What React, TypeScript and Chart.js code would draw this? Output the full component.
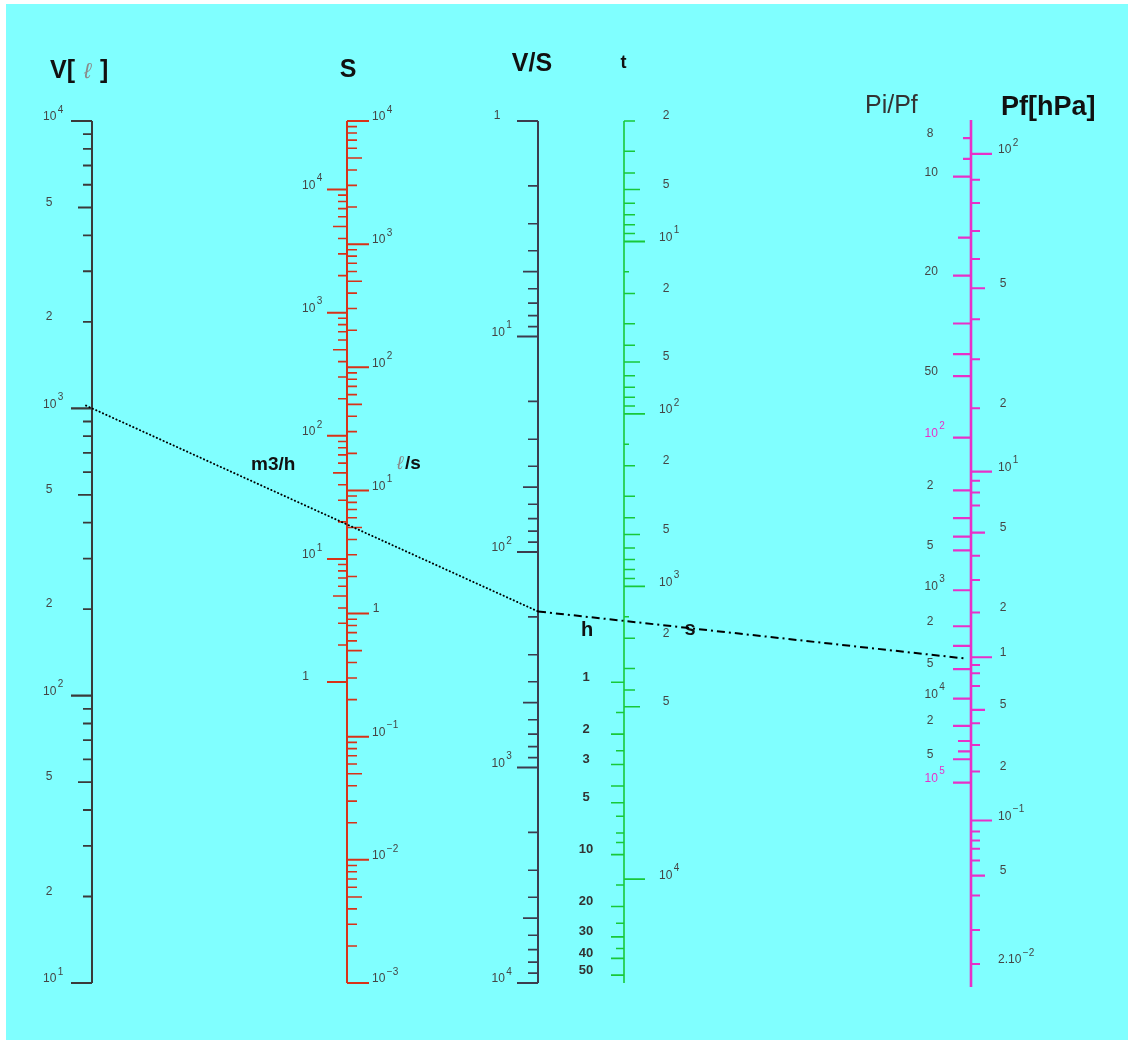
import { useEffect, useRef } from 'react';
import { Chart, registerables } from 'chart.js';

Chart.register(...registerables);

if (typeof document !== 'undefined') document.body.style.margin = '0';

const CANVAS_W = 1133;
const CANVAS_H = 1043;
const AREA_TOP = 121;
const AREA_BOTTOM = 983;

// ---------------- data ----------------
const MINOR_MULTS = [2, 3, 4, 6, 7, 8, 9];
const MID_MULTS = [5];

// V [ℓ]
const V_RANGE = [10, 1e4];
const V_DECADES = [10, 100, 1000, 10000];
const V_DECADE_LABELS = ['10^1', '10^2', '10^3', '10^4'];
const V_DIGIT_VALUES = [20, 50, 200, 500, 2000, 5000];
const V_DIGIT_LABELS = ['2', '5', '2', '5', '2', '5'];

// S : ℓ/s (right) and m3/h (left)
const S_RANGE = [1e-3, 1e4];
const S_LS_DECADES = [1e-3, 1e-2, 1e-1, 1, 10, 100, 1000, 1e4];
const S_LS_LABELS = ['10^−3', '10^−2', '10^−1', '1', '10^1', '10^2', '10^3', '10^4'];
const S_M3H_DECADES = [1, 10, 100, 1000, 1e4];
const S_M3H_LABELS = ['1', '10^1', '10^2', '10^3', '10^4'];
const M3H_TO_LS = 1000 / 3600;

// V/S
const VS_RANGE = [1, 1e4];
const VS_DECADES = [1, 10, 100, 1000, 1e4];
const VS_LABELS = ['1', '10^1', '10^2', '10^3', '10^4'];

// t : seconds (right), hours (left)
const T_RANGE = [2, 2e5];
const T_SEC_MAJOR = [10, 100, 1000, 5e4];
const T_SEC_MAJOR_LABELS = ['10^1', '10^2', '10^3', '10^4'];
const T_SEC_MID = [5, 50, 500, 5000];
const T_SEC_MINOR = [2, 3, 4, 6, 7, 8, 9, 20, 30, 40, 60, 70, 80, 90, 200, 300, 400, 600, 700, 800, 900, 2000, 3000, 4000];
const T_SEC_SHORT = [15, 150, 1500];
const T_SEC_DIGIT_VALUES = [2, 5, 20, 50, 200, 500, 2000, 5000];
const T_SEC_DIGIT_LABELS = ['2', '5', '2', '5', '2', '5', '2', '5'];
const T_HOUR_LONG = [1, 2, 3, 4, 5, 10, 20, 30, 40, 50];
const T_HOUR_SHORT = [1.5, 2.5, 6, 7.5, 8.5, 15, 25, 35];
const T_HOUR_LABELS = [1, 2, 3, 5, 10, 20, 30, 40, 50];
const SEC_PER_HOUR = 3600;

// Pi/Pf (left) and Pf [hPa] (right)
const P_RANGE = [7.29, 3.26e8];
const P_LINE = [7.25, 4.0e8];
const PR_LONG = [10, 20, 30, 40, 50, 100, 200, 300, 400, 500, 1000, 2000, 3000, 5000, 1e4, 2e4, 5e4, 1e5];
const PR_MID = [15, 3e4, 4e4];
const PR_SHORT = [8, 9];
const PR_LABEL_VALUES = [8, 10, 20, 50, 100, 200, 500, 1000, 2000, 5000, 1e4, 2e4, 5e4, 1e5];
const PR_LABELS = ['8', '10', '20', '50', '10^2', '2', '5', '10^3', '2', '5', '10^4', '2', '5', '10^5'];
const PR_HIGHLIGHT = [100, 1e5];

const PF_VALUES = [100, 90, 80, 70, 60, 50, 40, 30, 20, 10, 9, 8, 7, 5, 4, 3, 2, 1, 0.9, 0.8, 0.7, 0.5, 0.4, 0.3, 0.2, 0.1, 0.09, 0.08, 0.07, 0.06, 0.05, 0.04, 0.03, 0.02];
const PF_AT_RATIO = [8.74, 10.2, 11.83, 14.3, 17.55, 22.14, 28.86, 42.1, 70.8, 154.4, 175.1, 206.1, 248.5, 374.6, 546.9, 829, 1524, 3838, 4550, 5492, 7378, 13220, 18700, 33370, 71600, 338000, 494000, 678000, 915000, 1.41e6, 2.51e6, 5.6e6, 2.48e7, 1.24e8];
const PF_MAJOR = [100, 10, 1, 0.1];
const PF_MID = [50, 5, 0.5, 0.05];
const PF_LABEL_VALUES = [100, 50, 20, 10, 5, 2, 1, 0.5, 0.2, 0.1, 0.05, 0.02];
const PF_LABELS = ['10^2', '5', '2', '10^1', '5', '2', '1', '5', '2', '10^−1', '5', '2.10^−2'];

// example reading drawn across the nomogram
const EXAMPLE_V = 1000;
const EXAMPLE_S = 5.3;
const EXAMPLE_RATIO = 4000;

// ---------------- layout / style ----------------
const AXIS_POS = { V: 92, S: 347, VS: 538, T: 624, P: 971 };
const COLORS = {
  bg: '#80ffff',
  V: '#3a3a3a',
  S: '#d83218',
  VS: '#3c3c4e',
  T: '#18c83a',
  P: '#e830c8',
  label: '#454545',
  title: '#111111',
  ell: '#8a8a8a',
};
const FONT = '"Liberation Sans", Arial, sans-serif';

const lnln = (r: number) => Math.log10(Math.log(r));
const below = (decades: number[], mults: number[]) =>
  decades.slice(0, -1).flatMap((d) => mults.map((m) => m * d));

function axisLine(ctx: CanvasRenderingContext2D, x: number, sc: any, range: number[], color: string, w: number, map = (v: number) => v) {
  ctx.strokeStyle = color;
  ctx.lineWidth = w;
  ctx.setLineDash([]);
  ctx.beginPath();
  ctx.moveTo(x, sc.getPixelForValue(map(range[0])));
  ctx.lineTo(x, sc.getPixelForValue(map(range[1])));
  ctx.stroke();
}

function ticks(ctx: CanvasRenderingContext2D, x: number, sc: any, values: number[], len: number, side: number, color: string, w: number, map = (v: number) => v) {
  ctx.strokeStyle = color;
  ctx.lineWidth = w;
  ctx.setLineDash([]);
  ctx.beginPath();
  for (const v of values) {
    const y = sc.getPixelForValue(map(v));
    ctx.moveTo(x, y);
    ctx.lineTo(x + side * len, y);
  }
  ctx.stroke();
}

function drawLabel(ctx: CanvasRenderingContext2D, txt: string, x0: number, xc: number, y: number, color: string) {
  const [base, sup] = txt.split('^');
  ctx.fillStyle = color;
  ctx.textBaseline = 'middle';
  ctx.font = `12px ${FONT}`;
  if (!sup && base.length === 1) {
    ctx.textAlign = 'center';
    ctx.fillText(base, xc, y - 5);
    return;
  }
  ctx.textAlign = 'left';
  ctx.fillText(base, x0, y - 4);
  if (sup) {
    const w = ctx.measureText(base).width;
    ctx.font = `10px ${FONT}`;
    ctx.fillText(sup, x0 + w + 1.5, y - 11);
  }
}

function labels(ctx: CanvasRenderingContext2D, axisX: number, sc: any, values: number[], texts: string[], baseOff: number, digitOff: number, color: string, map = (v: number) => v, colorFor?: (v: number) => string) {
  values.forEach((v, i) => {
    const y = sc.getPixelForValue(map(v));
    drawLabel(ctx, texts[i], axisX + baseOff, axisX + digitOff, y, colorFor ? colorFor(v) : color);
  });
}

function text(ctx: CanvasRenderingContext2D, t: string, x: number, y: number, font: string, color: string, align: CanvasTextAlign = 'left') {
  ctx.font = font;
  ctx.fillStyle = color;
  ctx.textAlign = align;
  ctx.textBaseline = 'alphabetic';
  ctx.fillText(t, x, y);
}

const nomogramPlugin = {
  id: 'nomogram',
  beforeDraw(chart: any) {
    const ctx: CanvasRenderingContext2D = chart.ctx;
    ctx.save();
    ctx.fillStyle = '#ffffff';
    ctx.fillRect(0, 0, chart.width, chart.height);
    ctx.fillStyle = COLORS.bg;
    ctx.fillRect(6, 4, 1122, 1036);
    ctx.restore();
  },
  afterDraw(chart: any) {
    const ctx: CanvasRenderingContext2D = chart.ctx;
    const s = chart.scales;
    const X = (k: keyof typeof AXIS_POS) => s.x.getPixelForValue(AXIS_POS[k]);
    ctx.save();
    ctx.lineCap = 'butt';

    // ---- V axis ----
    const xV = X('V');
    axisLine(ctx, xV, s.yV, V_RANGE, COLORS.V, 2);
    ticks(ctx, xV, s.yV, V_DECADES, 21, -1, COLORS.V, 2.2);
    ticks(ctx, xV, s.yV, below(V_DECADES, MID_MULTS), 14, -1, COLORS.V, 1.8);
    ticks(ctx, xV, s.yV, below(V_DECADES, MINOR_MULTS), 9, -1, COLORS.V, 1.8);
    labels(ctx, xV, s.yV, V_DECADES, V_DECADE_LABELS, -49, -43, COLORS.label);
    labels(ctx, xV, s.yV, V_DIGIT_VALUES, V_DIGIT_LABELS, -49, -43, COLORS.label);

    // ---- S axis ----
    const xS = X('S');
    const m3h = (v: number) => v * M3H_TO_LS;
    axisLine(ctx, xS, s.yS, S_RANGE, COLORS.S, 2);
    ticks(ctx, xS, s.yS, S_LS_DECADES, 22, 1, COLORS.S, 2);
    ticks(ctx, xS, s.yS, below(S_LS_DECADES, MID_MULTS), 15, 1, COLORS.S, 1.6);
    ticks(ctx, xS, s.yS, below(S_LS_DECADES, MINOR_MULTS), 10, 1, COLORS.S, 1.6);
    ticks(ctx, xS, s.yS, S_M3H_DECADES, 20, -1, COLORS.S, 2, m3h);
    ticks(ctx, xS, s.yS, below(S_M3H_DECADES, MID_MULTS), 14, -1, COLORS.S, 1.6, m3h);
    ticks(ctx, xS, s.yS, below(S_M3H_DECADES, MINOR_MULTS), 9, -1, COLORS.S, 1.6, m3h);
    labels(ctx, xS, s.yS, S_LS_DECADES, S_LS_LABELS, 25, 29, COLORS.label);
    labels(ctx, xS, s.yS, S_M3H_DECADES, S_M3H_LABELS, -45, -41.5, COLORS.label, m3h);

    // ---- V/S axis ----
    const xVS = X('VS');
    axisLine(ctx, xVS, s.yVS, VS_RANGE, COLORS.VS, 2);
    ticks(ctx, xVS, s.yVS, VS_DECADES, 21, -1, COLORS.VS, 2);
    ticks(ctx, xVS, s.yVS, below(VS_DECADES, MID_MULTS), 15, -1, COLORS.VS, 1.6);
    ticks(ctx, xVS, s.yVS, below(VS_DECADES, MINOR_MULTS), 10, -1, COLORS.VS, 1.6);
    labels(ctx, xVS, s.yVS, VS_DECADES, VS_LABELS, -46.5, -41, COLORS.label);

    // ---- t axis ----
    const xT = X('T');
    const hrs = (v: number) => v * SEC_PER_HOUR;
    axisLine(ctx, xT, s.yT, T_RANGE, COLORS.T, 1.6);
    ticks(ctx, xT, s.yT, T_SEC_MAJOR, 21, 1, COLORS.T, 1.8);
    ticks(ctx, xT, s.yT, T_SEC_MID, 16, 1, COLORS.T, 1.5);
    ticks(ctx, xT, s.yT, T_SEC_MINOR, 11, 1, COLORS.T, 1.5);
    ticks(ctx, xT, s.yT, T_SEC_SHORT, 5, 1, COLORS.T, 1.5);
    ticks(ctx, xT, s.yT, T_HOUR_LONG, 13, -1, COLORS.T, 1.6, hrs);
    ticks(ctx, xT, s.yT, T_HOUR_SHORT, 8, -1, COLORS.T, 1.5, hrs);
    labels(ctx, xT, s.yT, T_SEC_MAJOR, T_SEC_MAJOR_LABELS, 35, 42, COLORS.label);
    labels(ctx, xT, s.yT, T_SEC_DIGIT_VALUES, T_SEC_DIGIT_LABELS, 35, 42, COLORS.label);
    ctx.font = `bold 13px ${FONT}`;
    ctx.fillStyle = '#333333';
    ctx.textAlign = 'center';
    ctx.textBaseline = 'middle';
    for (const h of T_HOUR_LABELS) {
      ctx.fillText(String(h), xT - 38, s.yT.getPixelForValue(hrs(h)) - 5);
    }

    // ---- Pi/Pf and Pf axis ----
    const xP = X('P');
    axisLine(ctx, xP, s.yP, P_LINE, COLORS.P, 2.6, lnln);
    ticks(ctx, xP, s.yP, PR_LONG, 18, -1, COLORS.P, 2.2, lnln);
    ticks(ctx, xP, s.yP, PR_MID, 13, -1, COLORS.P, 2.2, lnln);
    ticks(ctx, xP, s.yP, PR_SHORT, 8, -1, COLORS.P, 2.2, lnln);
    const pfPos = (pf: number) => lnln(PF_AT_RATIO[PF_VALUES.indexOf(pf)]);
    ticks(ctx, xP, s.yP, PF_MAJOR, 21, 1, COLORS.P, 2.2, pfPos);
    ticks(ctx, xP, s.yP, PF_MID, 14, 1, COLORS.P, 2.2, pfPos);
    ticks(ctx, xP, s.yP, PF_VALUES.filter((v) => !PF_MAJOR.includes(v) && !PF_MID.includes(v)), 9, 1, COLORS.P, 2, pfPos);
    labels(ctx, xP, s.yP, PR_LABEL_VALUES, PR_LABELS, -46.5, -41, COLORS.label, lnln,
      (v) => (PR_HIGHLIGHT.includes(v) ? COLORS.P : COLORS.label));
    labels(ctx, xP, s.yP, PF_LABEL_VALUES, PF_LABELS, 27, 32, COLORS.label, pfPos);

    // ---- titles ----
    text(ctx, 'V[', 50, 78, `bold 25px ${FONT}`, COLORS.title);
    text(ctx, 'ℓ', 84, 78, `italic 22px ${FONT}`, COLORS.ell);
    text(ctx, ']', 100, 78, `bold 25px ${FONT}`, COLORS.title);
    text(ctx, 'S', xS + 1, 77, `bold 25px ${FONT}`, COLORS.title, 'center');
    text(ctx, 'V/S', 532, 71, `bold 25px ${FONT}`, COLORS.title, 'center');
    text(ctx, 't', 623.5, 68, `bold 18px ${FONT}`, COLORS.title, 'center');
    text(ctx, 'm3/h', 251, 470, `bold 19px ${FONT}`, COLORS.title);
    text(ctx, 'ℓ', 397, 469, `italic 19px ${FONT}`, COLORS.ell);
    text(ctx, '/s', 405, 469, `bold 19px ${FONT}`, COLORS.title);
    text(ctx, 'h', 587, 636, `bold 20px ${FONT}`, COLORS.title, 'center');
    text(ctx, 's', 690, 635, `bold 20px ${FONT}`, COLORS.title, 'center');
    text(ctx, 'Pi/Pf', 865, 113, `25px ${FONT}`, '#333333');
    text(ctx, 'Pf[hPa]', 1001, 115, `bold 27px ${FONT}`, COLORS.title);

    // ---- example index line ----
    const yV0 = s.yV.getPixelForValue(EXAMPLE_V);
    const yVS0 = s.yVS.getPixelForValue(EXAMPLE_V / EXAMPLE_S);
    const yP0 = s.yP.getPixelForValue(lnln(EXAMPLE_RATIO));
    const k1 = (yVS0 - yV0) / (xVS - xV);
    ctx.strokeStyle = '#000000';
    ctx.lineCap = 'round';
    ctx.lineWidth = 1.9;
    ctx.setLineDash([0.3, 3.4]);
    ctx.beginPath();
    ctx.moveTo(xV - 6, yV0 - 6 * k1);
    ctx.lineTo(xVS, yVS0);
    ctx.stroke();
    const k2 = (yP0 - yVS0) / (xP - xVS);
    ctx.lineCap = 'butt';
    ctx.lineWidth = 2;
    ctx.setLineDash([8, 4, 2, 4]);
    ctx.beginPath();
    ctx.moveTo(xVS, yVS0);
    ctx.lineTo(xP - 5, yP0 - 5 * k2);
    ctx.stroke();
    ctx.setLineDash([]);
    ctx.restore();
  },
};

export default function App() {
  const ref = useRef<HTMLCanvasElement>(null);
  useEffect(() => {
    document.body.style.margin = '0';
    const canvas = ref.current;
    if (!canvas) return;
    const chart = new Chart(canvas, {
      type: 'scatter',
      data: { datasets: [] },
      options: {
        animation: false,
        responsive: false,
        events: [],
        layout: { padding: { top: AREA_TOP, bottom: CANVAS_H - AREA_BOTTOM, left: 0, right: 0 } },
        plugins: { legend: { display: false }, tooltip: { enabled: false }, title: { display: false } },
        scales: {
          x: { type: 'linear', min: 0, max: CANVAS_W, display: false },
          yV: { type: 'logarithmic', min: V_RANGE[0], max: V_RANGE[1], display: false },
          yS: { type: 'logarithmic', min: S_RANGE[0], max: S_RANGE[1], display: false },
          yVS: { type: 'logarithmic', min: VS_RANGE[0], max: VS_RANGE[1], reverse: true, display: false },
          yT: { type: 'logarithmic', min: T_RANGE[0], max: T_RANGE[1], reverse: true, display: false },
          yP: { type: 'linear', min: lnln(P_RANGE[0]), max: lnln(P_RANGE[1]), reverse: true, display: false },
        },
      } as any,
      plugins: [nomogramPlugin],
    });
    return () => chart.destroy();
  }, []);
  return (
    <div style={{ width: CANVAS_W, height: CANVAS_H, overflow: 'hidden' }}>
      <canvas ref={ref} width={CANVAS_W} height={CANVAS_H} style={{ display: 'block' }} />
    </div>
  );
}
